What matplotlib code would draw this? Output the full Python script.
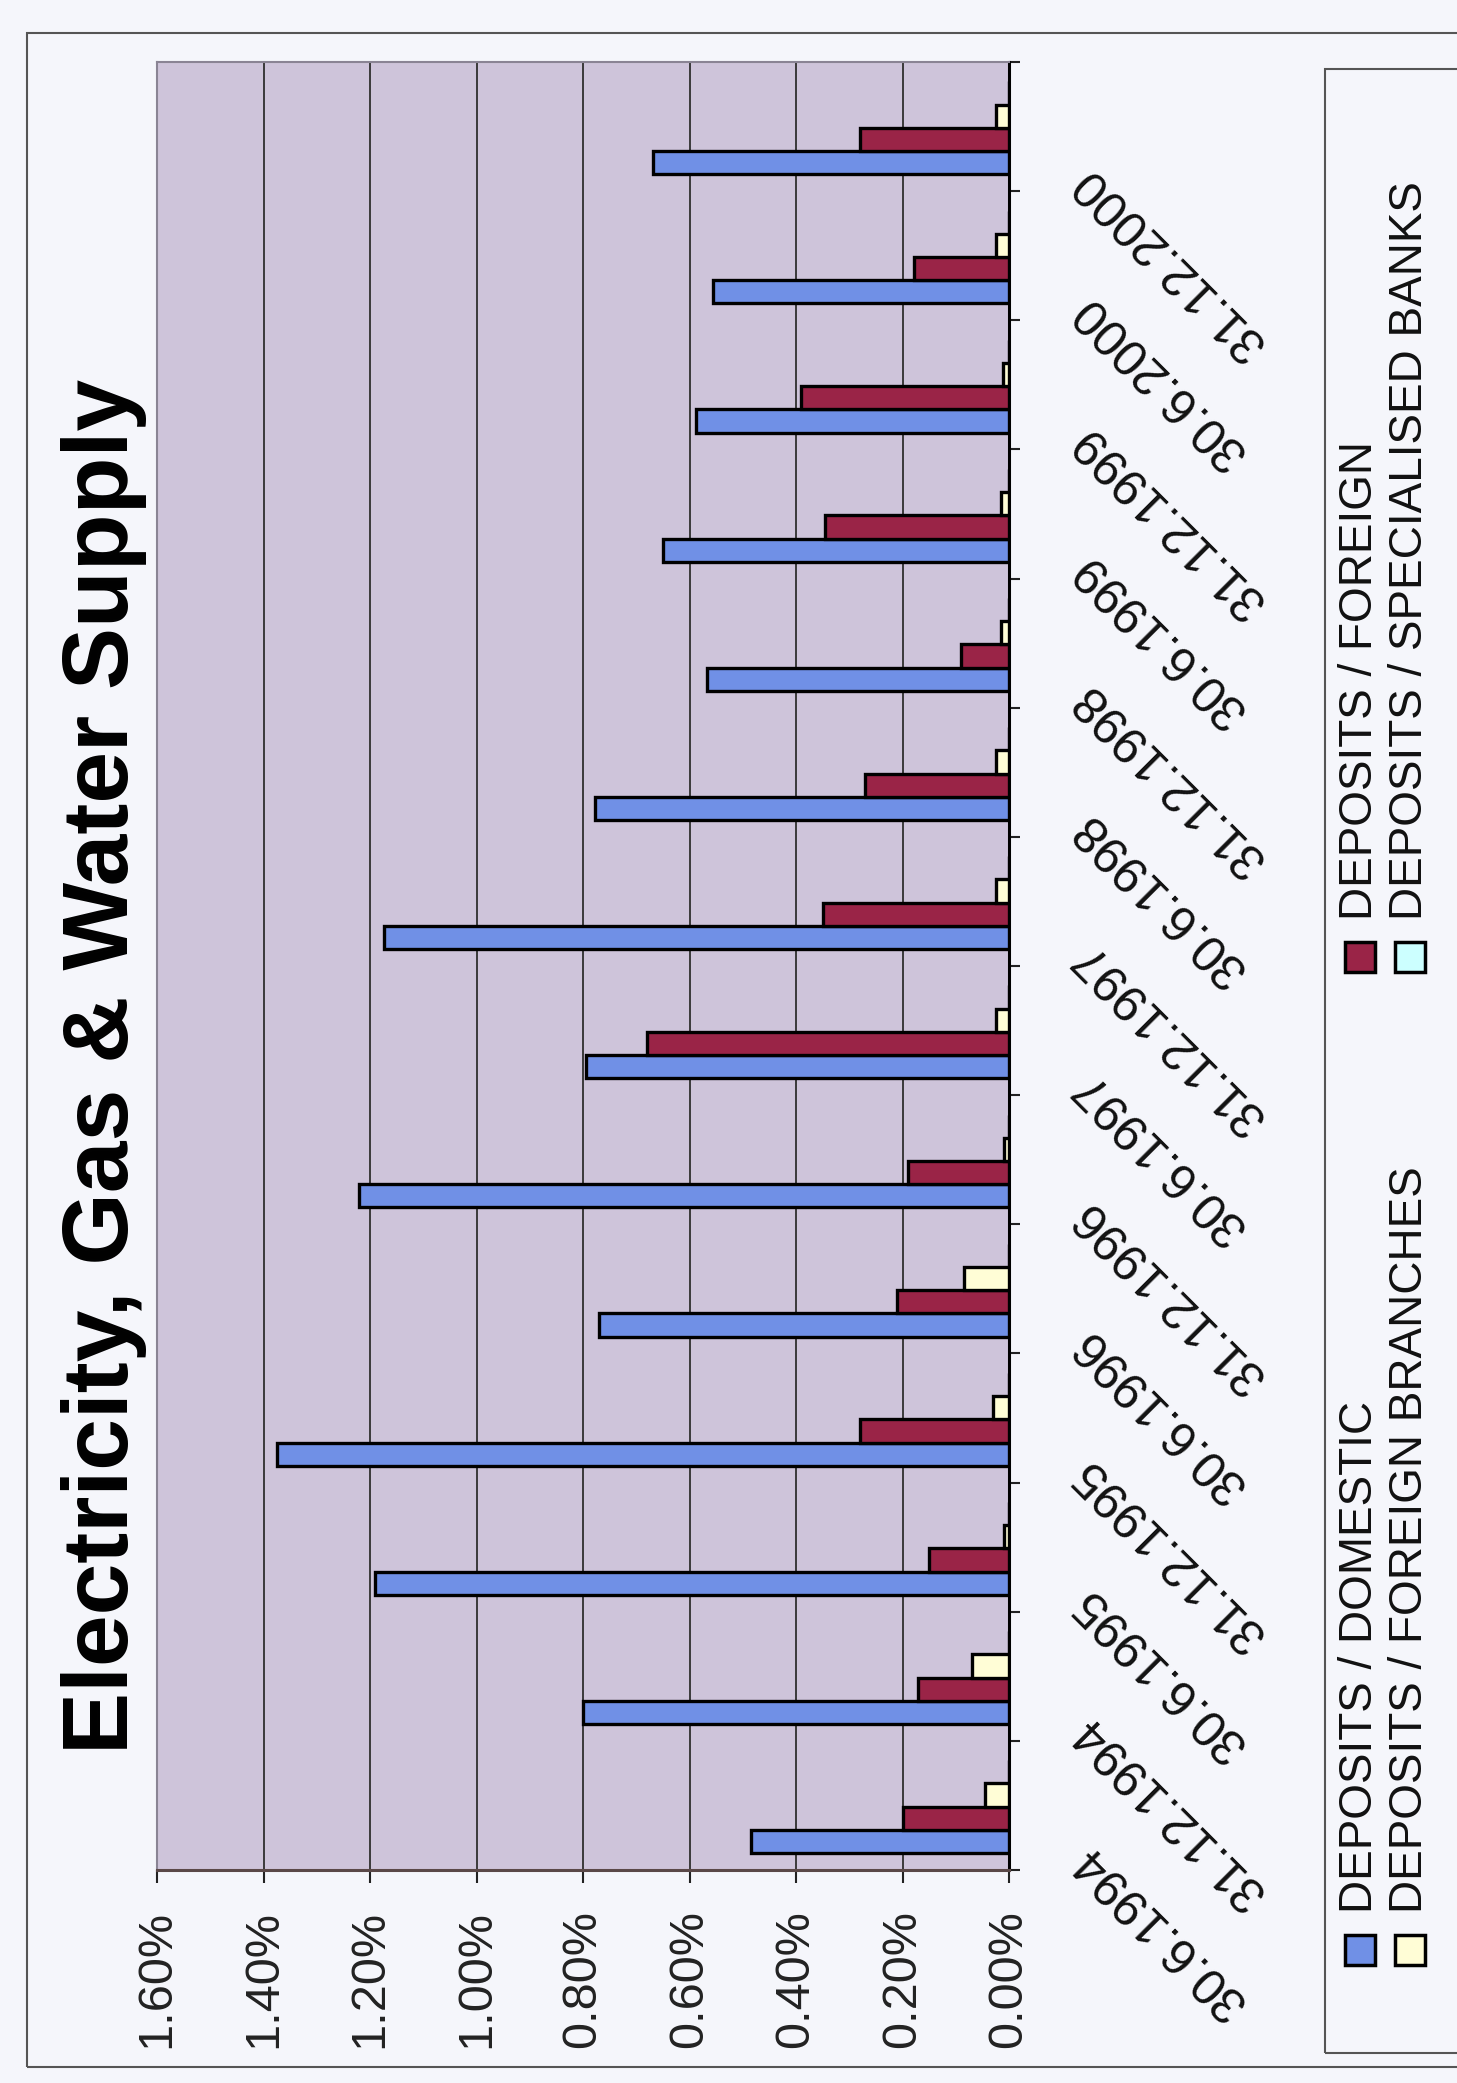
import numpy as np
import matplotlib
matplotlib.use("Agg")
import matplotlib.pyplot as plt
from matplotlib.patches import Rectangle
from matplotlib.transforms import blended_transform_factory, ScaledTranslation

plt.rcParams['font.family'] = ['Liberation Sans', 'DejaVu Sans']

# data (percent of deposits), oldest period first
periods = ['30.6.1994', '31.12.1994', '30.6.1995', '31.12.1995', '30.6.1996',
           '31.12.1996', '30.6.1997', '31.12.1997', '30.6.1998', '31.12.1998',
           '30.6.1999', '31.12.1999', '30.6.2000', '31.12.2000']
domestic = [0.485, 0.80, 1.19, 1.375, 0.77, 1.22, 0.795, 1.173, 0.778, 0.567,
            0.65, 0.588, 0.555, 0.668]
foreign = [0.20, 0.17, 0.15, 0.28, 0.21, 0.19, 0.68, 0.35, 0.27, 0.09,
           0.345, 0.39, 0.178, 0.28]
foreign_branches = [0.045, 0.07, 0.01, 0.03, 0.085, 0.01, 0.025, 0.025, 0.025, 0.015,
                    0.015, 0.012, 0.025, 0.025]
specialised = [0.0, 0.0, 0.0, 0.0, 0.0, 0.0, 0.0, 0.0, 0.0, 0.0, 0.0, 0.0, 0.0, 0.0]

series_names = ['DEPOSITS / DOMESTIC', 'DEPOSITS / FOREIGN',
                'DEPOSITS / FOREIGN BRANCHES', 'DEPOSITS / SPECIALISED BANKS']
colors = ['#7090E6', '#9A2447', '#FFFDD6', '#CCFFFF']
value_ticks = [0.0, 0.2, 0.4, 0.6, 0.8, 1.0, 1.2, 1.4, 1.6]

W, H = 1457, 2083
fig = plt.figure(figsize=(W / 100, H / 100), dpi=100, facecolor='#F5F6FB')

# the whole chart is turned on its side: values run right-to-left along the bottom
ax = fig.add_axes([157 / W, 1 - 1870 / H, (1009 - 157) / W, (1870 - 62) / H])
ax.set_facecolor('#CEC4DA')

y = np.arange(len(periods))
bh = 0.18
all_series = [domestic, foreign, foreign_branches, specialised]
for k, vals in enumerate(all_series):
    ax.barh(y + (k - 1.5) * bh - 0.01, vals, height=bh, color=colors[k],
            edgecolor='black', linewidth=2.4, zorder=3)

ax.set_xlim(1.6, 0)
ax.set_ylim(-0.5, len(periods) - 0.5)
ax.set_xticks(value_ticks)
ax.set_xticklabels(['%.2f%%' % v for v in value_ticks])
ax.tick_params(axis='x', rotation=90, labelsize=35, length=9, width=1.5, pad=20,
               colors='#222222')
ax.grid(axis='x', color='#3a3a3a', linewidth=1.4, zorder=1)
ax.set_axisbelow(True)

ax.yaxis.tick_right()
ax.set_yticks(np.arange(-0.5, len(periods), 1.0))
ax.set_yticklabels([])
ax.tick_params(axis='y', length=8, width=1.5, colors='#222222')

ax.spines['right'].set_color('black')
ax.spines['right'].set_linewidth(2.2)
ax.spines['bottom'].set_color('#5a4848')
ax.spines['bottom'].set_linewidth(2.2)
ax.spines['top'].set_color('#8a8494')
ax.spines['top'].set_linewidth(1.5)
ax.spines['left'].set_color('#8a8494')
ax.spines['left'].set_linewidth(1.5)

# period labels, slanted
tr = blended_transform_factory(ax.transAxes, ax.transData) + \
    ScaledTranslation(0.72, -0.47, fig.dpi_scale_trans)
for i, p in enumerate(periods):
    ax.text(1.0, i, p, transform=tr, rotation=135, rotation_mode='anchor',
            ha='right', va='center', fontsize=36, color='#111111')

# title
fig.text(104 / W, 1 - 1066 / H, 'Electricity, Gas & Water Supply', rotation=90,
         ha='center', va='center', fontsize=67, fontweight='bold', color='black')

# outer frame and legend box
fig.patches.append(Rectangle((27 / W, 1 - 2067 / H), 1.5, (2067 - 33) / H,
                             transform=fig.transFigure, fill=False,
                             edgecolor='#555555', linewidth=1.5))
fig.patches.append(Rectangle((1325 / W, 1 - 2053 / H), 1.0, (2053 - 69) / H,
                             transform=fig.transFigure, fill=False,
                             edgecolor='#555555', linewidth=1.5))

# legend entries: (column x px, marker y px, text start y px)
legend_pos = [(1360, 1950, 1913), (1360, 957, 920), (1410, 1950, 1913), (1410, 957, 920)]
for k, (lx, my, ty) in enumerate(legend_pos):
    s = 30
    fig.patches.append(Rectangle(((lx - s / 2) / W, 1 - (my + s / 2) / H), s / W, s / H,
                                 transform=fig.transFigure, facecolor=colors[k],
                                 edgecolor='black', linewidth=2.5))
    fig.text(lx / W, 1 - ty / H, series_names[k], rotation=90, ha='center',
             va='bottom', fontsize=33, color='#111111')

fig.savefig('out.png', dpi=100, facecolor=fig.get_facecolor())
